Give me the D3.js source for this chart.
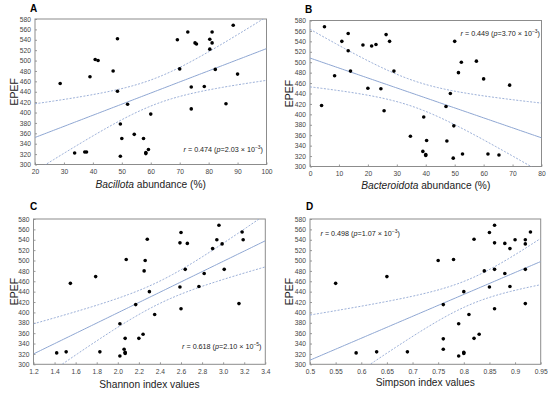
<!DOCTYPE html>
<html><head><meta charset="utf-8">
<script src="https://cdn.jsdelivr.net/npm/d3@7/dist/d3.min.js"></script>
<style>body{margin:0;background:#fff}svg{display:block}text{font-family:Arial,"Liberation Sans",sans-serif}</style>
</head><body><svg id="c" width="550" height="395"></svg>
<script>
// EPEF values (shared y)
const epefA = [456,322,324,324,469,502,500,480,542,441,378,316,350,416,358,350,323,321,329,397,540,484,555,449,407,534,532,450,541,522,555,534,483,417,568,474];
const bacillota = [28.7,33.7,37.2,37.8,39,40.8,41.8,47,48.5,48.5,49.5,49.5,50,52,54.3,57.5,58.3,58.3,59.2,60,69.2,70,72.8,74,74,75.3,75.8,78.5,80.4,80.4,81.2,81.2,82.3,86,88.5,90];

const epefB = [417,568,474,540,555,522,483,533,450,531,534,449,407,553,540,483,358,329,395,323,321,350,415,349,440,316,378,540,480,500,324,502,468,324,322,456];
const bacteroidota = [4,5,8.5,11,13.2,13.2,14,18.3,20,21.3,22.8,24.5,25.6,26.3,27.5,29,34.7,39,39.3,40,40,40.3,47,47.3,48.5,49.5,49.7,50,51.3,52.3,52.7,57.5,60,61.5,65.3,69];

const epefC = [322,324,456,469,324,316,378,329,323,321,350,502,415,350,358,480,500,541,440,396,534,554,449,407,483,533,450,475,523,540,568,532,483,417,555,540];
const shannon = [1.42,1.51,1.55,1.79,1.83,2.02,2.02,2.06,2.07,2.07,2.07,2.08,2.17,2.20,2.24,2.25,2.26,2.28,2.30,2.35,2.59,2.60,2.59,2.60,2.64,2.66,2.77,2.82,2.90,2.94,2.96,2.99,3.01,3.15,3.18,3.19];

const epefD = [456,322,324,469,324,500,415,349,329,502,378,316,440,323,321,396,541,350,358,480,554,449,568,534,483,407,533,475,523,450,540,540,532,483,417,555];
const simpson = [0.55,0.59,0.63,0.65,0.69,0.75,0.76,0.76,0.76,0.78,0.79,0.79,0.80,0.80,0.80,0.81,0.82,0.82,0.83,0.84,0.85,0.85,0.86,0.86,0.86,0.86,0.88,0.88,0.89,0.89,0.90,0.92,0.92,0.92,0.92,0.93];

// fitted line values (EPEF at the x-axis ends)
const fitA = [352,523];
const fitB = [508,355];
const fitC = [320,538];
const fitD = [308,498];

const yTicks = [300,320,340,360,380,400,420,440,460,480,500,520,540,560,580];
const xTicksA = [20,30,40,50,60,70,80,90,100];
const xTicksB = [0,10,20,30,40,50,60,70,80];
const xTicksC = [1.2,1.4,1.6,1.8,2.0,2.2,2.4,2.6,2.8,3.0,3.2,3.4];
const xTicksD = [0.5,0.55,0.6,0.65,0.7,0.75,0.8,0.85,0.9,0.95];

const panelLetters = ["A","B","C","D"];
const xTitles = [["Bacillota"," abundance (%)"],["Bacteroidota"," abundance (%)"],["","Shannon index values"],["","Simpson index values"]];
const rValues = ["0.474","0.449","0.618","0.498"];
const pMant = ["2.03","3.70","2.10","1.07"];
const pExp = ["\u22123","\u22123","\u22125","\u22123"];

const panels = [
  {x:bacillota,y:epefA,fit:fitA,xt:xTicksA,fmt:d=>d,box:[35,266.5,19,164.5],letter:[30,12],ytl:14,xty:188,ann:{x:263,y:151.5,anchor:"end"}},
  {x:bacteroidota,y:epefB,fit:fitB,xt:xTicksB,fmt:d=>d,box:[310,541.5,20.5,166.5],letter:[305,13],ytl:289,xty:189,ann:{x:540,y:36,anchor:"end"}},
  {x:shannon,y:epefC,fit:fitC,xt:xTicksC,fmt:d3.format(".1f"),box:[33.5,265.3,219,364.3],letter:[30,210],ytl:14,xty:388,ann:{x:261.5,y:348.5,anchor:"end"}},
  {x:simpson,y:epefD,fit:fitD,xt:xTicksD,fmt:d=>String(d),box:[310,540.7,219,364.3],letter:[306,210],ytl:289,xty:386,ann:{x:320.5,y:236,anchor:"start"}}
];

const svg = d3.select("#c");
const lineCol = "#8ea6d2";
const tCrit = 2.032;

panels.forEach((p,i)=>{
  const [x0,x1,y0,y1] = p.box;
  const xs = d3.scaleLinear().domain([p.xt[0],p.xt[p.xt.length-1]]).range([x0,x1]);
  const ys = d3.scaleLinear().domain([300,580]).range([y1,y0]);
  const g = svg.append("g");
  const clipId = "clip"+i;
  g.append("clipPath").attr("id",clipId).append("rect").attr("x",x0).attr("y",y0).attr("width",x1-x0).attr("height",y1-y0);

  const ya = g.append("g").attr("transform",`translate(${x0},0)`).call(d3.axisLeft(ys).tickValues(yTicks).tickSize(-2).tickPadding(4));
  const xa = g.append("g").attr("transform",`translate(0,${y1})`).call(d3.axisBottom(xs).tickValues(p.xt).tickFormat(p.fmt).tickSize(-2).tickPadding(5));
  [ya,xa].forEach(a=>{
    a.select(".domain").remove();
    a.selectAll("line").attr("stroke","#999");
    a.selectAll("text").attr("font-size",6.7).attr("fill","#444");
  });
  g.append("rect").attr("x",x0).attr("y",y0).attr("width",x1-x0).attr("height",y1-y0)
    .attr("fill","none").attr("stroke","#8c8c8c").attr("stroke-width",1);

  // fitted line + 95% confidence band around it (band width from OLS residual error)
  const n = p.x.length;
  const dom = xs.domain();
  const b = (p.fit[1]-p.fit[0])/(dom[1]-dom[0]);
  const a0 = p.fit[0]-b*dom[0];
  const mx = d3.mean(p.x), my = d3.mean(p.y);
  let sxx=0, sxy=0;
  for(let k=0;k<n;k++){sxx+=(p.x[k]-mx)**2; sxy+=(p.x[k]-mx)*(p.y[k]-my);}
  const bo = sxy/sxx, ao = my-bo*mx;
  let sse=0; for(let k=0;k<n;k++){sse+=(p.y[k]-ao-bo*p.x[k])**2;}
  const se = Math.sqrt(sse/(n-2));
  const grid = d3.range(0,101).map(k=>dom[0]+(dom[1]-dom[0])*k/100);
  const half = xv=>tCrit*se*Math.sqrt(1/n+(xv-mx)**2/sxx);
  const line = d3.line().x(d=>xs(d[0])).y(d=>ys(d[1]));
  const cg = g.append("g").attr("clip-path",`url(#${clipId})`);
  cg.append("path").attr("d",line(grid.map(xv=>[xv,a0+b*xv]))).attr("fill","none").attr("stroke",lineCol).attr("stroke-width",1);
  cg.append("path").attr("d",line(grid.map(xv=>[xv,a0+b*xv+half(xv)]))).attr("fill","none").attr("stroke",lineCol).attr("stroke-width",0.9).attr("stroke-dasharray","2,1.5");
  cg.append("path").attr("d",line(grid.map(xv=>[xv,a0+b*xv-half(xv)]))).attr("fill","none").attr("stroke",lineCol).attr("stroke-width",0.9).attr("stroke-dasharray","2,1.5");

  g.selectAll("circle.pt").data(p.x.map((xv,k)=>[xv,p.y[k]])).join("circle").attr("class","pt")
    .attr("cx",d=>xs(d[0])).attr("cy",d=>ys(d[1])).attr("r",1.8).attr("fill","#000");

  g.append("text").attr("x",p.letter[0]).attr("y",p.letter[1]).attr("font-size",10).attr("font-weight","bold").text(panelLetters[i]);
  g.append("text").attr("transform",`translate(${p.ytl+3.5},${(y0+y1)/2}) rotate(-90)`).attr("text-anchor","middle").attr("font-size",10.5).attr("fill","#222").text("EPEF");
  const xt = g.append("text").attr("x",(x0+x1)/2).attr("y",p.xty).attr("text-anchor","middle").attr("font-size",10.2).attr("fill","#222");
  if(xTitles[i][0]) xt.append("tspan").attr("font-style","italic").text(xTitles[i][0]);
  xt.append("tspan").text(xTitles[i][1]);
  const an = g.append("text").attr("x",p.ann.x).attr("y",p.ann.y).attr("text-anchor",p.ann.anchor).attr("font-size",7.2).attr("fill","#222");
  an.append("tspan").attr("font-style","italic").text("r");
  an.append("tspan").text(" = "+rValues[i]+" (");
  an.append("tspan").attr("font-style","italic").text("p");
  an.append("tspan").text("="+pMant[i]+" \u00d7 10");
  an.append("tspan").attr("font-size",5).attr("dy",-3).text(pExp[i]);
  an.append("tspan").attr("dy",3).text(")");
});
</script></body></html>
